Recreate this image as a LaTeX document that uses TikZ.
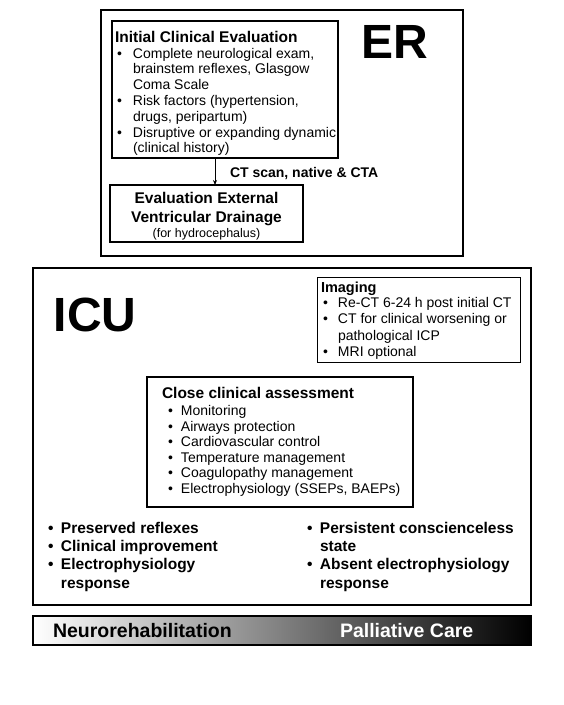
\documentclass[tikz,border=0pt]{standalone}
\usepackage{fontspec}
\setmainfont{Liberation Sans}
\usetikzlibrary{arrows.meta}
\begin{document}
\begin{tikzpicture}[x=1pt,y=-1pt,
  box/.style={draw=black, anchor=north west, inner sep=0pt, outer sep=0pt},
  heavybox/.style={box, line width=2pt},
  lightbox/.style={box, line width=1.1pt},
  txt/.style={anchor=base west, inner sep=0pt, outer sep=0pt, align=left},
  ctxt/.style={anchor=base, inner sep=0pt, outer sep=0pt},
  body/.style={font=\fontsize{14}{15.8}\selectfont},
  bigtitle/.style={font=\fontsize{48}{48}\selectfont\bfseries},
  boxtitle/.style={font=\fontsize{15.5}{18}\selectfont\bfseries},
  outcome/.style={font=\fontsize{15.5}{18.4}\selectfont\bfseries},
  barlabel/.style={font=\fontsize{19.5}{22}\selectfont\bfseries}]
\useasboundingbox[fill=white] (0,0) rectangle (564,705);

% ---------------- ER ----------------
\node[heavybox, minimum width=362pt, minimum height=246pt] (er) at (101,10) {};
\node[ctxt, bigtitle] (erlabel) at (395,58) {ER};

\node[lightbox, minimum width=226pt, minimum height=137pt] (ie) at (112,21) {};
\node[txt, boxtitle] (ietitle) at (115,42) {Initial Clinical Evaluation};
\node[txt, body] (ielist) at (117,58) {\begin{tabular}[t]{@{}p{16pt}@{}l@{}}
•&Complete neurological exam,\\
 &brainstem reflexes, Glasgow\\
 &Coma Scale\\
•&Risk factors (hypertension,\\
 &drugs, peripartum)\\
•&Disruptive or expanding dynamic\\
 &(clinical history)\end{tabular}};

\node[lightbox, minimum width=193pt, minimum height=57pt] (evd) at (110,185) {};
\node[ctxt, font=\fontsize{15.5}{18}\selectfont\bfseries] (evd1) at (206.5,203.5) {Evaluation External};
\node[ctxt, font=\fontsize{15.5}{18}\selectfont\bfseries] (evd2) at (206.5,222.5) {Ventricular Drainage};
\node[ctxt, font=\fontsize{12.5}{15}\selectfont] (evd3) at (206.5,237.5) {(for hydrocephalus)};

\coordinate (ax) at (215,0);
\draw[line width=0.9pt, -{Stealth[length=5pt,width=4pt]}] (ax |- ie.south) -- (ax |- evd.north);
\node[txt, font=\fontsize{14}{16}\selectfont\bfseries] (ct) at (230,177.5) {CT scan, native \& CTA};

% ---------------- ICU ----------------
\node[heavybox, minimum width=498pt, minimum height=337pt] (icu) at (33,268) {};
\node[ctxt, bigtitle] (iculabel) at (95,331) {ICU};

\node[lightbox, line width=1pt, minimum width=203pt, minimum height=85pt] (img) at (317,277) {};
\node[txt, font=\fontsize{14.5}{16}\selectfont\bfseries] (imgtitle) at (321,292.5) {Imaging};
\node[txt, font=\fontsize{14}{16.6}\selectfont] (imglist) at (323,307) {\begin{tabular}[t]{@{}p{15pt}@{}l@{}}
•&Re-CT 6-24 h post initial CT\\
•&CT for clinical worsening or\\
 &pathological ICP\\
•&MRI optional\end{tabular}};

\node[heavybox, minimum width=266pt, minimum height=130pt] (cca) at (147,377) {};
\node[txt, boxtitle] (ccatitle) at (162,398) {Close clinical assessment};
\node[txt, font=\fontsize{14}{15.6}\selectfont] (ccalist) at (168,415.5) {\begin{tabular}[t]{@{}p{13pt}@{}l@{}}
•&Monitoring\\
•&Airways protection\\
•&Cardiovascular control\\
•&Temperature management\\
•&Coagulopathy management\\
•&Electrophysiology (SSEPs, BAEPs)\end{tabular}};

\node[txt, outcome] (good) at (48,533) {\begin{tabular}[t]{@{}p{13pt}@{}l@{}}
•&Preserved reflexes\\
•&Clinical improvement\\
•&Electrophysiology\\
 &response\end{tabular}};
\node[txt, outcome] (bad) at (307,533) {\begin{tabular}[t]{@{}p{13pt}@{}l@{}}
•&Persistent conscienceless\\
 &state\\
•&Absent electrophysiology\\
 &response\end{tabular}};

% ---------------- Bar ----------------
\node[box, line width=1.2pt, minimum width=498pt, minimum height=29pt,
      left color=white, right color=black] (bar) at (33,616) {};
\node[txt, barlabel] (neuro) at (53,637) {Neurorehabilitation};
\node[txt, barlabel, text=white] (pall) at (340,637) {Palliative Care};
\end{tikzpicture}
\end{document}
